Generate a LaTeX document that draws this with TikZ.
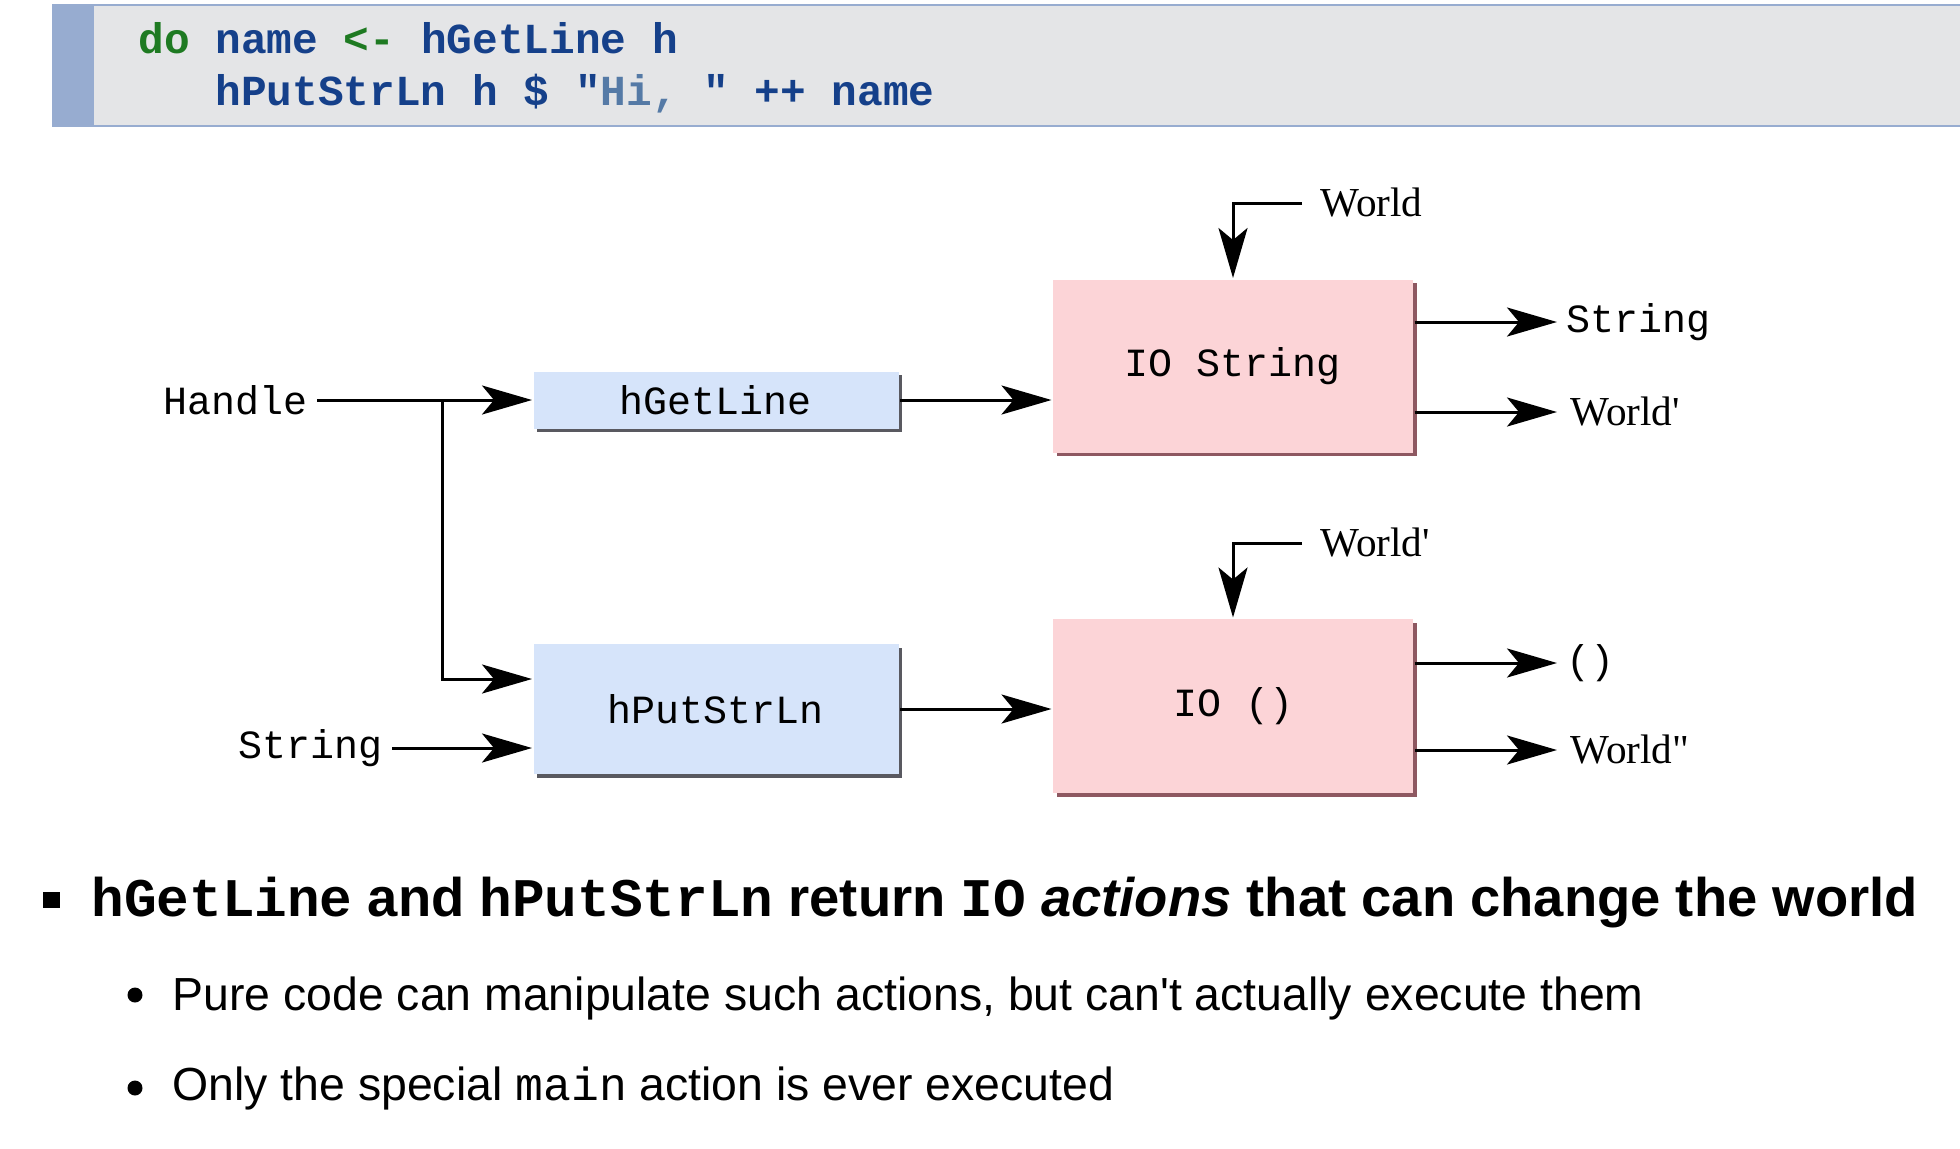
\documentclass[tikz,border=0pt]{standalone}
\usepackage{fontspec}
\newfontfamily\lblserif{Liberation Serif}[Ligatures=TeXOff]
\newfontfamily\txtsans{Liberation Sans}[Ligatures=TeXOff]
\newfontfamily\codefont{Liberation Mono}[Ligatures=TeXOff]
\usepackage{xcolor}
\usepackage{tikz}
\usetikzlibrary{arrows.meta,shadows}

\definecolor{codebg}{HTML}{E4E5E7}
\definecolor{codebar}{HTML}{97ACD0}
\definecolor{kwgreen}{HTML}{1E7A22}
\definecolor{codeblue}{HTML}{15408A}
\definecolor{strblue}{HTML}{557AA6}
\definecolor{getfill}{HTML}{D6E4FA}
\definecolor{getshade}{HTML}{3C3C44}
\definecolor{iofill}{HTML}{FCD4D7}
\definecolor{ioshade}{HTML}{7A3B45}

\newcommand{\lblmono}{\codefont\fontsize{20}{24}\selectfont}

\tikzset{
  code/.style={inner sep=0pt,anchor=base west,text=codeblue,
    font=\codefont\bfseries\fontsize{21.4}{25}\selectfont},
  getbox/.style={fill=getfill,minimum width=182.5pt,inner sep=0pt,font=\lblmono,
    drop shadow={shadow xshift=1.8pt,shadow yshift=-1.8pt,fill=getshade,opacity=.85}},
  iobox/.style={fill=iofill,minimum width=180pt,inner sep=0pt,font=\lblmono,
    drop shadow={shadow xshift=1.8pt,shadow yshift=-1.8pt,fill=ioshade,opacity=.85}},
  lbl/.style={inner sep=4pt,font=\lblmono},
  wlbl/.style={inner sep=4pt,font=\lblserif\fontsize{20.6}{24}\selectfont},
  txt/.style={inner sep=0pt,anchor=base west},
}

\begin{document}
\begin{tikzpicture}[x=0.5pt,y=-0.5pt,line width=1.5pt,
    >={Stealth[length=25pt,width=14.5pt,inset=6pt]}]
\useasboundingbox (0,0) rectangle (1960,1148);
%
% code listing
\fill[codebg] (52,5) rectangle (1960,126);
\fill[codebar] (52,5) rectangle (94,126);
\draw[codebar,line width=1pt] (52,5) -- (1960,5) (52,126) -- (1960,126);
\node[code] (line1) at (137,53) {\textcolor{kwgreen}{do} name \textcolor{kwgreen}{<-} hGetLine h};
\node[code] (line2) at (214,105) {hPutStrLn h \$ "\textcolor{strblue}{Hi,} " ++ name};
%
% boxes
\node[getbox,minimum height=28.5pt] (get) at (716,400) {hGetLine};
\node[getbox,minimum height=65pt] (put) at (716,709) {hPutStrLn};
\node[iobox,minimum height=86.5pt] (ios) at (1233,366) {IO String};
\node[iobox,minimum height=87pt] (iou) at (1233,706) {IO ()};
%
% labels
\node[lbl,anchor=east] (handle) at (317,400) {Handle};
\node[lbl,anchor=east] (strin) at (392,748) {String};
\node[wlbl,inner xsep=8.5pt,anchor=west] (w1) at (1302,203) {World};
\node[wlbl,inner xsep=8.5pt,anchor=west] (w3) at (1302,543) {World'};
\node[lbl,anchor=west] (sout) at (1557,322) {String};
\node[wlbl,anchor=west,inner xsep=6pt] (w2) at (1557,412) {World'};
\node[lbl,anchor=west] (uout) at (1557,663) {()};
\node[wlbl,anchor=west,inner xsep=6pt] (w4) at (1557,750) {World"};
\coordinate (split) at (442,400);
%
\path[->]
(handle) edge (get)
(strin) edge (strin -| put.west)
(get) edge (ios.west |- get)
(put) edge (iou.west |- put)
(ios.east |- sout) edge (sout.west)
(ios.east |- w2) edge (w2.west)
(iou.east |- uout) edge (uout.west)
(iou.east |- w4) edge (w4.west);
%
\draw[->] (split) |- ([yshift=15pt]put.west);
\draw[->] (w1.west) -| (ios.north);
\draw[->] (w3.west) -| (iou.north);
%
% bullets
\fill (43,892) rectangle (60,908);
\fill (135,995) circle (3.75pt);
\fill (135,1088) circle (3.75pt);
\node[txt,font=\txtsans\bfseries\fontsize{27.2}{32}\selectfont] (main) at (90,916)
  {{\codefont hGetLine} and {\codefont hPutStrLn} return {\codefont IO} \textit{actions} that can change the world};
\node[txt,font=\txtsans\fontsize{23.2}{28}\selectfont] (pure) at (171,1010)
  {Pure code can manipulate such actions, but can't actually execute them};
\node[txt,font=\txtsans\fontsize{23.2}{28}\selectfont] (only) at (171,1100)
  {Only the special {\codefont main} action is ever executed};
\end{tikzpicture}
\end{document}
